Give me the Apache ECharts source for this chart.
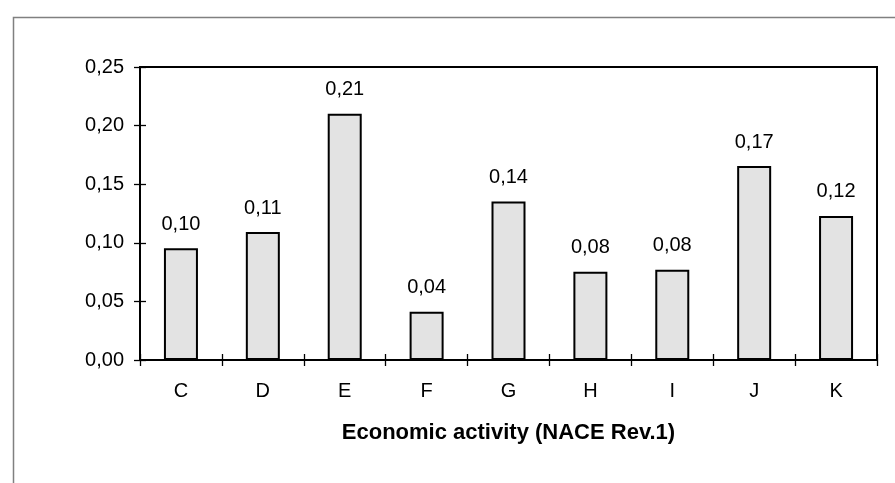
<!DOCTYPE html>
<html>
<head>
<meta charset="utf-8">
<script src="https://cdn.jsdelivr.net/npm/echarts@6/dist/echarts.min.js"></script>
<style>html,body{margin:0;padding:0;background:#fff}#c{width:895px;height:483px}</style>
</head>
<body>
<div id="c"></div>
<script>
const categories = ['C', 'D', 'E', 'F', 'G', 'H', 'I', 'J', 'K'];
const values = [0.0953, 0.1092, 0.2101, 0.0412, 0.1352, 0.0753, 0.0771, 0.1655, 0.1229];
const yTicks = [0, 0.05, 0.10, 0.15, 0.20, 0.25];
const xName = 'Economic activity (NACE Rev.1)';

const fmt = v => v.toFixed(2).replace('.', ',');
const font = 'Liberation Sans, Arial, sans-serif';
const chart = echarts.init(document.getElementById('c'), null, {renderer: 'canvas'});
chart.setOption({
  animation: false,
  backgroundColor: '#fff',
  graphic: [{
    type: 'rect', left: 11, top: 15, shape: {x: 0, y: 0, width: 900, height: 500},
    style: {fill: 'none', stroke: '#808080', lineWidth: 1.5}, z: -1
  }],
  grid: {left: 140, right: 18, top: 67, bottom: 123, show: true, borderColor: '#000', borderWidth: 2, backgroundColor: 'transparent'},
  xAxis: [{
    type: 'category', data: categories,
    axisLine: {lineStyle: {color: '#000', width: 2}},
    axisTick: {show: true, length: 6, lineStyle: {color: '#000', width: 1.3}, alignWithLabel: false},
    axisLabel: {color: '#000', fontSize: 20, fontFamily: font, margin: 21},
    name: xName, nameLocation: 'middle', nameGap: 62,
    nameTextStyle: {color: '#000', fontSize: 22, fontWeight: 'bold', fontFamily: font}
  }, {
    type: 'category', data: categories, position: 'bottom',
    axisLine: {show: false},
    axisTick: {show: true, inside: true, length: 6, lineStyle: {color: '#000', width: 1.3}},
    axisLabel: {show: false}
  }],
  yAxis: [{
    type: 'value', min: 0, max: yTicks[yTicks.length - 1], interval: yTicks[1] - yTicks[0],
    axisLine: {show: true, lineStyle: {color: '#000', width: 2}},
    axisTick: {show: true, length: 6, lineStyle: {color: '#000', width: 1.3}},
    splitLine: {show: false},
    axisLabel: {color: '#000', fontSize: 20, fontFamily: font, margin: 16, formatter: fmt}
  }, {
    type: 'value', min: 0, max: yTicks[yTicks.length - 1], interval: yTicks[1] - yTicks[0], position: 'left',
    axisLine: {show: false},
    axisTick: {show: true, inside: true, length: 6, lineStyle: {color: '#000', width: 1.3}},
    splitLine: {show: false},
    axisLabel: {show: false}
  }],
  series: [{
    type: 'bar', data: values, barWidth: 34,
    itemStyle: {color: '#e3e3e3', borderColor: '#000', borderWidth: 2},
    label: {show: true, position: 'top', distance: 14, color: '#000', fontSize: 20, fontFamily: font,
      formatter: p => fmt(p.value)}
  }]
});
</script>
</body>
</html>
